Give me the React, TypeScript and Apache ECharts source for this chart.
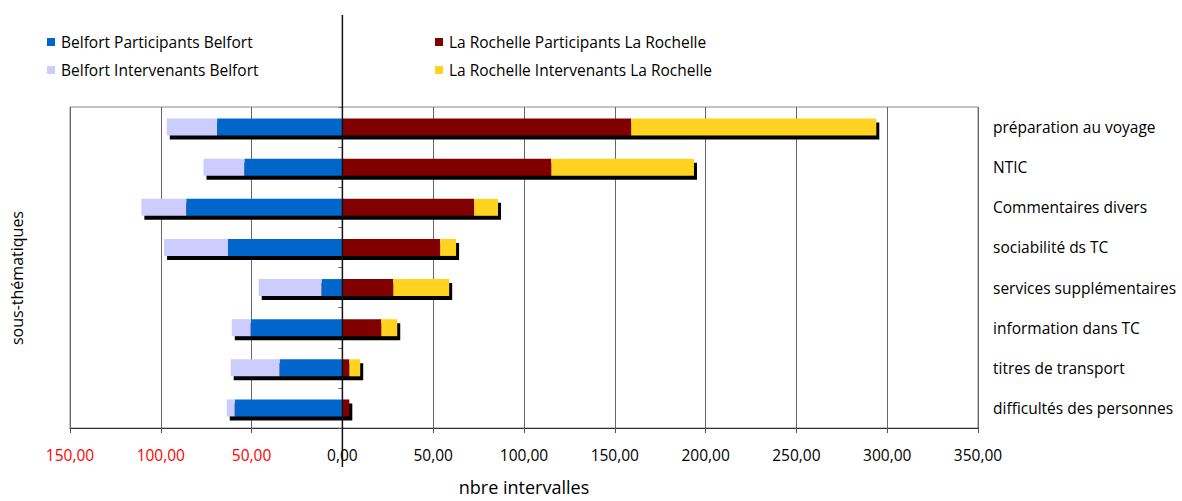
import React, { useEffect, useRef } from "react";
import * as echarts from "echarts";

const categories = [
  "préparation au voyage",
  "NTIC",
  "Commentaires divers",
  "sociabilité ds TC",
  "services supplémentaires",
  "information dans TC",
  "titres de transport",
  "difficultés des personnes",
];
const belfortParticipants = [69, 54, 86, 63, 11.5, 50.5, 34.6, 59.3];
const belfortIntervenants = [27.7, 22.5, 24.7, 35.2, 34.6, 10.4, 26.9, 4.4];
const rochelleParticipants = [159, 115, 72.5, 53.8, 28, 21.4, 3.8, 3.8];
const rochelleIntervenants = [135, 78.6, 13.2, 8.8, 30.8, 8.8, 6, 0];

const seriesNames = [
  "Belfort Participants Belfort",
  "Belfort Intervenants Belfort",
  "La Rochelle Participants La Rochelle",
  "La Rochelle Intervenants La Rochelle",
];
const colors = ["#0066CC", "#CCCCFF", "#800000", "#FFD320"];
const FONT = "'Open Sans', 'Noto Sans', sans-serif";
const BAR_H = 17;

export default function App() {
  const ref = useRef<HTMLDivElement>(null);
  useEffect(() => {
    if (!ref.current) return;
    const chart = echarts.init(ref.current, null, { renderer: "svg" });
    const shadowData = categories.map((_, i) => [
      -(belfortParticipants[i] + belfortIntervenants[i]),
      rochelleParticipants[i] + rochelleIntervenants[i],
      i,
    ]);
    const fmt = (v: number) => Math.abs(v).toFixed(2).replace(".", ",");
    const legendText = { fontFamily: FONT, fontSize: 15.5, color: "#000", lineHeight: 16, padding: [0, 0, 0, 1] };
    const option: any = {
      animation: false,
      textStyle: { fontFamily: FONT },
      grid: {
        left: 70,
        width: 908,
        top: 107,
        height: 329,
        show: true,
        borderColor: "#888",
        borderWidth: 1,
      },
      legend: [
        {
          data: seriesNames.slice(0, 2),
          orient: "vertical",
          left: 47,
          top: 34,
          padding: 0,
          itemWidth: 8,
          itemHeight: 8,
          itemGap: 12,
          icon: "rect",
          textStyle: legendText,
        },
        {
          data: seriesNames.slice(2, 4),
          orient: "vertical",
          left: 435,
          top: 34,
          padding: 0,
          itemWidth: 8,
          itemHeight: 8,
          itemGap: 12,
          icon: "rect",
          textStyle: legendText,
        },
      ],
      xAxis: {
        type: "value",
        min: -150,
        max: 350,
        interval: 50,
        name: "nbre intervalles",
        nameLocation: "middle",
        nameGap: 50,
        nameTextStyle: { fontFamily: FONT, fontSize: 18, color: "#000" },
        axisLine: { show: true, onZero: false, lineStyle: { color: "#333", width: 1 } },
        axisTick: { show: true, length: 5, lineStyle: { color: "#555" } },
        splitLine: { show: true, lineStyle: { color: "#666", width: 1 } },
        axisLabel: {
          margin: 19,
          fontFamily: FONT,
          fontSize: 15.5,
          formatter: fmt,
          color: (v: any) => (Number(v) < 0 ? "#FF0000" : "#000"),
        },
      },
      yAxis: [
        {
          type: "category",
          data: categories,
          inverse: true,
          position: "left",
          axisLine: { show: false },
          axisTick: { show: true, length: 4, lineStyle: { color: "#666" } },
          axisLabel: { show: false },
          splitLine: { show: false },
        },
        {
          type: "category",
          data: categories,
          inverse: true,
          position: "right",
          axisLine: { show: false },
          axisTick: { show: false },
          axisLabel: {
            show: true,
            margin: 15,
            align: "left",
            fontFamily: FONT,
            fontSize: 15.5,
            color: "#000",
          },
          splitLine: { show: false },
        },
      ],
      series: [
        {
          type: "custom",
          name: "shadow",
          z: 1,
          silent: true,
          data: shadowData,
          encode: { x: [0, 1], y: 2 },
          renderItem: (params: any, api: any) => {
            const p1 = api.coord([api.value(0), api.value(2)]);
            const p2 = api.coord([api.value(1), api.value(2)]);
            return {
              type: "rect",
              shape: { x: p1[0] + 3, y: p1[1] - BAR_H / 2 + 4, width: p2[0] - p1[0], height: BAR_H },
              style: { fill: "#000" },
            };
          },
        },
        {
          type: "bar",
          name: seriesNames[0],
          stack: "total",
          barWidth: BAR_H,
          z: 2,
          data: belfortParticipants.map((v) => -v),
          itemStyle: { color: colors[0] },
        },
        {
          type: "bar",
          name: seriesNames[1],
          stack: "total",
          barWidth: BAR_H,
          z: 2,
          data: belfortIntervenants.map((v) => -v),
          itemStyle: { color: colors[1] },
        },
        {
          type: "bar",
          name: seriesNames[2],
          stack: "total",
          barWidth: BAR_H,
          z: 2,
          data: rochelleParticipants,
          itemStyle: { color: colors[2] },
        },
        {
          type: "bar",
          name: seriesNames[3],
          stack: "total",
          barWidth: BAR_H,
          z: 2,
          data: rochelleIntervenants,
          itemStyle: { color: colors[3] },
        },
      ],
    };
    chart.setOption(option);
    const x0 = chart.convertToPixel({ xAxisIndex: 0 }, 0) as number;
    chart.setOption({
      graphic: [
        {
          type: "line",
          z: 10,
          shape: { x1: x0, y1: 15, x2: x0, y2: 467 },
          style: { stroke: "#111", lineWidth: 1.5 },
        },
        {
          type: "text",
          x: 17,
          y: 278,
          rotation: Math.PI / 2,
          style: {
            text: "sous-thématiques",
            fontFamily: FONT,
            fontSize: 16,
            fill: "#000",
            align: "center",
            verticalAlign: "middle",
          },
        },
      ],
    });
    return () => chart.dispose();
  }, []);
  return (
    <div
      ref={ref}
      style={{ position: "fixed", left: 0, top: 0, width: 1182, height: 501, background: "#fff" }}
    />
  );
}
